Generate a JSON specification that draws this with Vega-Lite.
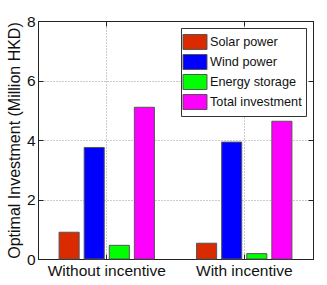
{
  "$schema": "https://vega.github.io/schema/vega-lite/v6.json",
  "width": 275,
  "height": 238,
  "autosize": "none",
  "padding": {"left": 38, "top": 21, "right": 14, "bottom": 26},
  "config": {
    "font": "Liberation Sans",
    "view": {"stroke": "#222", "strokeWidth": 1},
    "axis": {"domainColor": "#222", "tickColor": "#222", "labelColor": "#111", "titleColor": "#111", "labelFont": "Liberation Sans", "titleFont": "Liberation Sans"}
  },
  "data": {
    "values": [
      {"scenario": "Without incentive", "series": "Solar power", "value": 0.9},
      {"scenario": "Without incentive", "series": "Wind power", "value": 3.75},
      {"scenario": "Without incentive", "series": "Energy storage", "value": 0.46},
      {"scenario": "Without incentive", "series": "Total investment", "value": 5.1},
      {"scenario": "With incentive", "series": "Solar power", "value": 0.53},
      {"scenario": "With incentive", "series": "Wind power", "value": 3.93},
      {"scenario": "With incentive", "series": "Energy storage", "value": 0.18},
      {"scenario": "With incentive", "series": "Total investment", "value": 4.63}
    ]
  },
  "layer": [
    {
      "mark": {"type": "bar", "stroke": "#555", "strokeWidth": 1},
      "encoding": {
        "x": {
          "field": "scenario", "type": "nominal",
          "sort": ["Without incentive", "With incentive"],
          "scale": {"paddingInner": 0, "paddingOuter": 0},
          "axis": {"orient": "bottom", "title": null, "labelAngle": 0, "labelFontSize": 15.5, "tickSize": -5, "labelPadding": 9, "grid": true, "gridDash": [1, 2], "gridColor": "#999", "bandPosition": 0.5, "domain": true}
        },
        "xOffset": {
          "field": "series", "type": "nominal",
          "sort": ["Solar power", "Wind power", "Energy storage", "Total investment"],
          "scale": {"paddingInner": 0.2, "paddingOuter": 0.84}
        },
        "y": {
          "field": "value", "type": "quantitative",
          "scale": {"domain": [0, 8], "nice": false},
          "axis": {"orient": "left", "values": [0, 2, 4, 6, 8], "title": "Optimal Investment (Million HKD)", "titleFontSize": 16, "titleFontWeight": "normal", "titlePadding": 4, "labelFontSize": 15.5, "tickSize": -5, "labelPadding": 8, "grid": true, "gridDash": [1, 2], "gridColor": "#999"}
        },
        "color": {
          "field": "series", "type": "nominal",
          "sort": ["Solar power", "Wind power", "Energy storage", "Total investment"],
          "scale": {"domain": ["Solar power", "Wind power", "Energy storage", "Total investment"], "range": ["#d92a00", "#0000ff", "#00ff00", "#ff00ff"]},
          "legend": {
            "title": null, "orient": "top-right", "offset": 7,
            "symbolType": "M-1.263,-0.789L1.263,-0.789L1.263,0.789L-1.263,0.789Z",
            "symbolSize": 361, "symbolStrokeColor": "#555", "symbolStrokeWidth": 1, "symbolOpacity": 1,
            "labelFontSize": 12.7, "labelFont": "Liberation Sans", "labelColor": "#111", "labelOffset": 5,
            "rowPadding": 0, "padding": 4, "strokeColor": "#333", "fillColor": "white"
          }
        }
      }
    },
    {
      "mark": {"type": "bar", "opacity": 0},
      "encoding": {
        "x": {
          "field": "scenario", "type": "nominal",
          "sort": ["Without incentive", "With incentive"],
          "axis": {"orient": "top", "title": null, "labels": false, "tickSize": -5, "grid": false, "bandPosition": 0.5}
        },
        "y": {
          "field": "value", "type": "quantitative",
          "axis": {"orient": "right", "title": null, "labels": false, "values": [0, 2, 4, 6, 8], "tickSize": -5, "grid": false}
        }
      }
    }
  ],
  "resolve": {"axis": {"x": "independent", "y": "independent"}}
}
